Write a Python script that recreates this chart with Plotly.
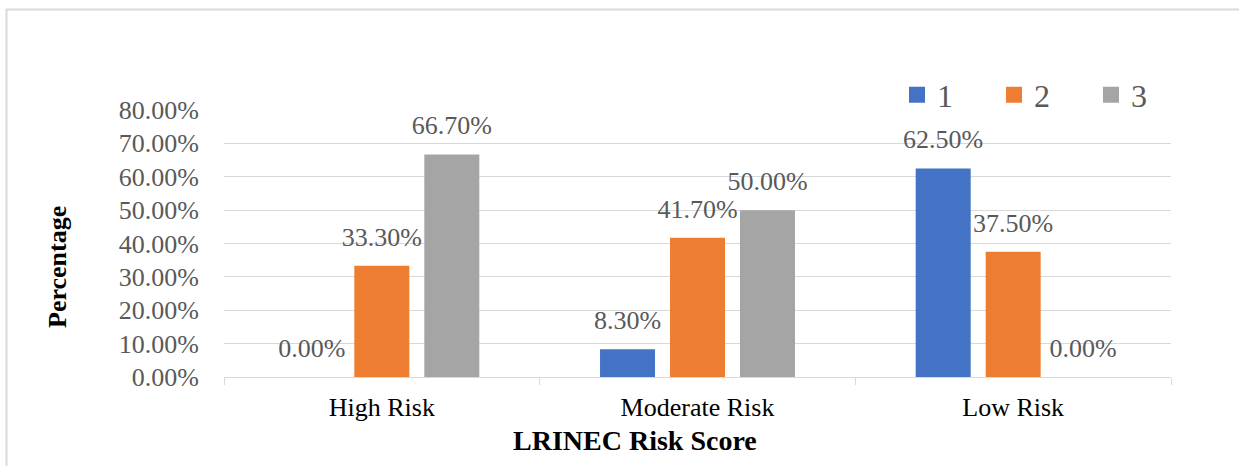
import plotly.graph_objects as go

categories = ["High Risk", "Moderate Risk", "Low Risk"]
series_names = ["1", "2", "3"]
values_1 = [0.0, 8.3, 62.5]
values_2 = [33.3, 41.7, 37.5]
values_3 = [66.7, 50.0, 0.0]
colors = ["#4472C4", "#ED7D31", "#A5A5A5"]

FONT = "Liberation Serif, Times New Roman, serif"
W, H = 1239, 466
L, R, T, B = 224, 68, 110, 89
BARGAP = 0.335

fig = go.Figure()
for name, vals, col in zip(series_names, [values_1, values_2, values_3], colors):
    y = [v / 100 for v in vals]
    fig.add_trace(go.Bar(
        name=name, x=categories, y=y,
        marker=dict(color=col, line=dict(width=0)),
        offsetgroup=name, showlegend=False,
    ))
    # value labels, sitting above each bar
    fig.add_trace(go.Scatter(
        name=name, x=categories, y=y,
        mode="markers+text",
        text=[f"{v:.2f}%" for v in vals],
        textposition="top center",
        textfont=dict(family=FONT, size=26, color="#595959"),
        marker=dict(size=20, color="rgba(0,0,0,0)"),
        offsetgroup=name, legendgroup=name, showlegend=False,
        cliponaxis=False, hoverinfo="skip",
    ))
    # legend swatch
    fig.add_trace(go.Scatter(
        name=name, x=[categories[0]], y=[None],
        mode="markers",
        marker=dict(size=16, symbol="square", color=col),
        offsetgroup=name, legendgroup=name, showlegend=True,
    ))

pw = W - L - R
ph = H - T - B

def px_x(p):
    return (p - L) / pw

def px_y(p):
    return (H - B - p) / ph

fig.update_layout(
    width=W, height=H,
    margin=dict(l=L, r=R, t=T, b=B, autoexpand=False),
    paper_bgcolor="white",
    plot_bgcolor="white",
    barmode="group",
    bargap=BARGAP,
    bargroupgap=0.214,
    scattermode="group",
    scattergap=BARGAP,
    font=dict(family=FONT, color="#595959"),
    showlegend=True,
    legend=dict(
        orientation="h",
        x=px_x(897), y=px_y(95), xanchor="left", yanchor="middle",
        font=dict(family=FONT, size=32, color="#595959"),
        entrywidth=52, entrywidthmode="pixels",
        itemwidth=30,
        bgcolor="rgba(0,0,0,0)",
        traceorder="normal",
    ),
    xaxis=dict(
        showline=True, linecolor="#D9D9D9", linewidth=1,
        ticks="outside", tickson="boundaries", ticklen=7, tickcolor="#D9D9D9",
        tickfont=dict(family=FONT, size=26, color="#000000"),
        ticklabelstandoff=7,
        showgrid=False,
    ),
    yaxis=dict(
        range=[0, 0.8],
        dtick=0.1,
        tickformat=".2%",
        showgrid=True, gridcolor="#D9D9D9", gridwidth=1,
        showline=False, zeroline=False,
        ticks="",
        ticklabelstandoff=24,
        tickfont=dict(family=FONT, size=26, color="#595959"),
    ),
    annotations=[
        dict(text="<b>LRINEC Risk Score</b>", xref="paper", yref="paper",
             x=px_x(635), y=px_y(440), xanchor="center", yanchor="middle",
             showarrow=False, font=dict(family=FONT, size=28, color="#000000")),
        dict(text="<b>Percentage</b>", xref="paper", yref="paper",
             x=px_x(57), y=px_y(267), xanchor="center", yanchor="middle",
             textangle=-90, showarrow=False,
             font=dict(family=FONT, size=26, color="#000000")),
    ],
    shapes=[dict(
        type="rect", xref="paper", yref="paper",
        x0=px_x(6.5), x1=px_x(W + 20), y0=px_y(H + 20), y1=px_y(9.5),
        line=dict(color="#D9D9D9", width=2), fillcolor="rgba(0,0,0,0)", layer="below",
    )],
)

fig.write_html("out.html")
